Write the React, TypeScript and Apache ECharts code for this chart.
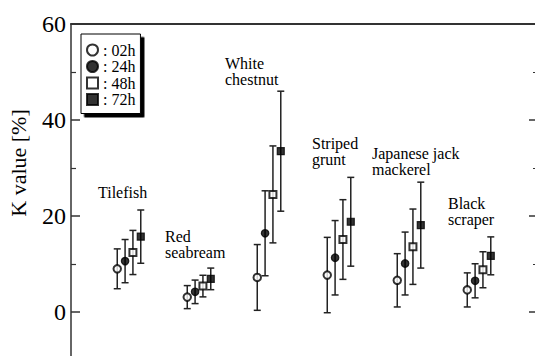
import React, { useEffect, useRef } from 'react';
import * as echarts from 'echarts';

const categories = ['Tilefish', 'Red seabream', 'White chestnut', 'Striped grunt', 'Japanese jack mackerel', 'Black scraper'];
const categoryLabels = ['Tilefish', 'Red\nseabream', 'White\nchestnut', 'Striped\ngrunt', 'Japanese jack\nmackerel', 'Black\nscraper'];
const times = ['02h', '24h', '48h', '72h'];

const mean02 = [9.0, 3.1, 7.2, 7.7, 6.6, 4.6];
const sd02 = [4.15, 2.4, 6.85, 7.85, 5.55, 3.55];
const mean24 = [10.6, 4.2, 16.4, 11.3, 10.1, 6.5];
const sd24 = [4.5, 2.45, 8.85, 7.75, 6.55, 3.55];
const mean48 = [12.4, 5.4, 24.5, 15.1, 13.6, 8.8];
const sd48 = [4.6, 2.25, 10.1, 8.3, 7.85, 3.75];
const mean72 = [15.7, 6.9, 33.5, 18.8, 18.1, 11.7];
const sd72 = [5.55, 2.25, 12.5, 9.25, 8.95, 3.95];

const yTickLabels = [0, 20, 40, 60];

const FONT = 'Liberation Serif';
const INK = '#222';

export default function App() {
  const ref = useRef<HTMLDivElement>(null);
  useEffect(() => {
    document.body.style.margin = '0';
    document.body.style.overflow = 'hidden';
    document.documentElement.style.overflow = 'hidden';
    if (!ref.current) return;
    const chart = echarts.init(ref.current, null, { renderer: 'svg' });

    const means = [mean02, mean24, mean48, mean72];
    const sds = [sd02, sd24, sd48, sd72];
    const symbols = ['emptyCircle', 'circle', 'emptyRect', 'rect'];
    const sizes = [7.5, 7.5, 7, 7];
    const spread = 0.112;

    const series: any[] = [];
    times.forEach((t, s) => {
      const xs = categories.map((_, i) => i + 1 + (s - 1.5) * spread);
      series.push({
        type: 'custom',
        name: 'err' + t,
        xAxisIndex: 0,
        yAxisIndex: 0,
        z: 2,
        encode: { x: 0, y: [1, 2] },
        data: xs.map((x, i) => [x, means[s][i] - sds[s][i], means[s][i] + sds[s][i]]),
        renderItem: (params: any, api: any) => {
          const x = api.value(0);
          const lo = api.coord([x, api.value(1)]);
          const hi = api.coord([x, api.value(2)]);
          const w = 3.5;
          const st = { stroke: INK, lineWidth: 1.5 };
          return {
            type: 'group',
            children: [
              { type: 'line', shape: { x1: lo[0], y1: lo[1], x2: hi[0], y2: hi[1] }, style: st },
              { type: 'line', shape: { x1: lo[0] - w, y1: lo[1], x2: lo[0] + w, y2: lo[1] }, style: st },
              { type: 'line', shape: { x1: hi[0] - w, y1: hi[1], x2: hi[0] + w, y2: hi[1] }, style: st },
            ],
          };
        },
      });
      series.push({
        type: 'scatter',
        name: t,
        xAxisIndex: 0,
        yAxisIndex: 0,
        z: 5,
        symbol: symbols[s],
        symbolSize: sizes[s],
        itemStyle: { color: '#000', borderColor: '#000', borderWidth: 1.2 },
        data: xs.map((x, i) => [x, means[s][i]]),
      });
    });

    const labelPos = [
      [98, 184], [165, 228], [225, 55], [312, 135], [372, 145], [448, 195],
    ];

    chart.setOption({
      animation: false,
      grid: { left: 71, width: 465, top: 24, height: 384, containLabel: false },
      xAxis: [
        {
          type: 'value', min: 0.1714, max: 6.814, position: 'top',
          axisLine: { show: true, onZero: false, lineStyle: { color: '#333', width: 2 } },
          axisTick: { show: false }, axisLabel: { show: false }, splitLine: { show: false },
        },
      ],
      yAxis: [
        {
          type: 'value', min: -20, max: 60, interval: 20, position: 'left',
          axisLine: { show: true, onZero: false, lineStyle: { color: '#333', width: 1.5 } },
          axisTick: { show: true, inside: true, length: 9, lineStyle: { color: '#333', width: 1.5 } },
          minorTick: { show: true, splitNumber: 2, length: 5, lineStyle: { color: '#333', width: 1.2 } },
          axisLabel: {
            fontSize: 24, fontFamily: FONT, color: '#000', margin: 5,
            formatter: (v: number) => (yTickLabels.includes(v) ? String(v) : ''),
          },
          splitLine: { show: false },
        },
        {
          type: 'value', min: -20, max: 60, interval: 20, position: 'right',
          axisLine: { show: true, onZero: false, lineStyle: { color: '#333', width: 1.5 } },
          axisTick: { show: true, inside: true, length: 7, lineStyle: { color: '#333', width: 1.5 } },
          minorTick: { show: true, splitNumber: 2, length: 3, lineStyle: { color: '#333', width: 1.2 } },
          axisLabel: { show: false },
          splitLine: { show: false },
        },
      ],
      legend: {
        orient: 'vertical',
        left: 81,
        top: 34,
        data: times,
        itemWidth: 11,
        itemHeight: 11,
        itemGap: 0.5,
        padding: [8, 5, 6, 5],
        backgroundColor: '#fff',
        borderColor: '#000',
        borderWidth: 1,
        shadowColor: '#000',
        shadowBlur: 0,
        shadowOffsetX: 3.5,
        shadowOffsetY: 3.5,
        formatter: (name: string) => ': ' + name,
        textStyle: { fontFamily: FONT, fontSize: 16, color: '#000', lineHeight: 16 },
      },
      graphic: [
        {
          type: 'text', x: 18, y: 163, rotation: Math.PI / 2,
          style: { text: 'K value [%]', fontSize: 22, fontFamily: FONT, fill: '#000', align: 'center', verticalAlign: 'middle' },
        },
        ...categoryLabels.map((lbl, i) => ({
          type: 'text', x: labelPos[i][0], y: labelPos[i][1],
          style: { text: lbl, fontSize: 16, fontFamily: FONT, fill: '#000', align: 'left', verticalAlign: 'top', lineHeight: 16.5 },
        })),
      ],
      series,
    });
    return () => chart.dispose();
  }, []);
  return <div ref={ref} style={{ width: 560, height: 420 }} />;
}
